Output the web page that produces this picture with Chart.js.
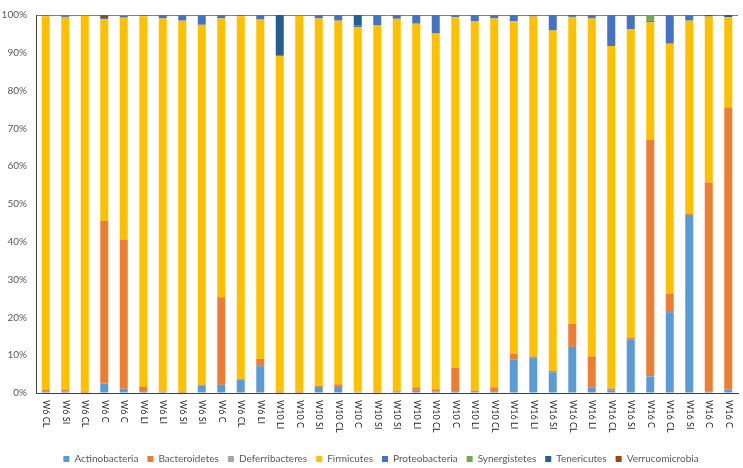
<!DOCTYPE html>
<html>
<head>
<meta charset="utf-8">
<script src="https://cdn.jsdelivr.net/npm/chart.js@4.4.1/dist/chart.umd.min.js"></script>
<style>
  html, body { margin: 0; padding: 0; background: #ffffff; }
  #wrap { width: 743px; height: 468px; position: relative; }
</style>
</head>
<body>
<div id="wrap"><canvas id="c"></canvas></div>
<script>
const categories = ["W6 CL","W6 SI","W6 CL","W6 C","W6 C","W6 LI","W6 LI","W6 SI","W6 SI","W6 C","W6 CL","W6 LI",
  "W10 LI","W10 C","W10 SI","W10 CL","W10 C","W10 SI","W10 SI","W10 LI","W10 CL","W10 C","W10 LI","W10 CL",
  "W16 LI","W16 LI","W16 SI","W16 CL","W16 LI","W16 CL","W16 SI","W16 C","W16 CL","W16 SI","W16 C","W16 C"];

const actinobacteria  = [0.3,0.4,0.1,2.5,1.1,0.3,0.3,0.1,1.9,2.2,3.6,7.1, 0.1,0.1,1.6,1.6,0.2,0.1,0.3,0.6,0.4,0.3,0.5,0.3, 8.8,9.2,5.5,12.2,1.5,0.7,14.2,4.4,21.4,47.1,0.3,0.9];
const bacteroidetes   = [0.5,0.5,0.3,43.0,39.5,1.3,0.1,0.3,0.3,23.1,0.1,1.9, 0.3,0.3,0.3,0.7,0.1,0.1,0.2,0.9,0.6,6.4,0.1,1.2, 1.6,0.4,0.3,6.1,8.2,0.5,0.4,62.5,4.9,0.3,55.4,74.6];
const deferribacteres = [0,0,0,0,0,0,0,0,0,0,0,0, 0,0,0,0,0,0,0,0,0,0,0,0, 0,0,0,0,0,0,0,0,0,0,0,0];
const firmicutes      = [98.9,98.6,99.4,53.4,58.7,98.1,98.7,98.1,95.2,73.8,96.0,89.8, 88.8,99.4,97.2,96.2,96.4,97.0,98.5,96.2,94.1,92.7,97.7,97.6, 87.9,90.0,90.1,81.2,89.4,90.6,81.6,31.2,66.1,51.1,43.9,23.9];
const proteobacteria  = [0.3,0.5,0.2,0.3,0.5,0.3,0.9,1.5,2.6,0.9,0.3,1.2, 0,0.2,0.9,1.5,0.6,2.8,1.0,2.3,4.9,0.6,1.7,0.9, 1.7,0.4,4.1,0.3,0.9,8.2,3.8,0.4,7.6,1.5,0,0];
const synergistetes   = [0,0,0,0,0.2,0,0,0,0,0,0,0, 0,0,0,0,0,0,0,0,0,0,0,0, 0,0,0,0,0,0,0,1.5,0,0,0,0];
const tenericutes     = [0,0,0,0,0,0,0,0,0,0,0,0, 10.8,0,0,0,2.7,0,0,0,0,0,0,0, 0,0,0,0.2,0,0,0,0,0,0,0.4,0.6];
const verrucomicrobia = [0,0,0,0.8,0,0,0,0,0,0,0,0, 0,0,0,0,0,0,0,0,0,0,0,0, 0,0,0,0,0,0,0,0,0,0,0,0];

const yTicks = [0,10,20,30,40,50,60,70,80,90,100];

const seriesNames  = ["Actinobacteria","Bacteroidetes","Deferribacteres","Firmicutes","Proteobacteria","Synergistetes","Tenericutes","Verrucomicrobia"];
const seriesData   = [actinobacteria, bacteroidetes, deferribacteres, firmicutes, proteobacteria, synergistetes, tenericutes, verrucomicrobia];
const seriesColors = ["#5B9BD5","#ED7D31","#A5A5A5","#FFC000","#4472C4","#70AD47","#255E91","#9E480E"];

const FONT = 'Lato, sans-serif';

const xLabelPlugin = {
  id: 'xLabels',
  afterLayout(chart) {
    if (chart.legend) {
      chart.legend.left += 12;
      chart.legend.right += 12;
    }
  },
  afterDraw(chart) {
    const xs = chart.scales.x;
    const ctx = chart.ctx;
    ctx.save();
    ctx.font = '9px ' + FONT;
    ctx.fillStyle = '#262626';
    ctx.textAlign = 'left';
    ctx.textBaseline = 'middle';
    categories.forEach((lab, i) => {
      const x = xs.getPixelForValue(i);
      ctx.save();
      ctx.translate(x + 0.5, chart.chartArea.bottom + 7);
      ctx.rotate(Math.PI / 2);
      ctx.fillText(lab, 0, 0);
      ctx.restore();
    });
    ctx.restore();
  }
};

new Chart(document.getElementById('c'), {
  type: 'bar',
  data: {
    labels: categories,
    datasets: seriesNames.map((n, k) => ({
      label: n,
      data: seriesData[k],
      backgroundColor: seriesColors[k],
      borderWidth: 0,
      barPercentage: 0.41,
      categoryPercentage: 1.0
    }))
  },
  options: {
    responsive: true,
    maintainAspectRatio: false,
    animation: false,
    layout: { padding: { top: 3, right: 5, left: 0, bottom: -6 } },
    plugins: {
      tooltip: { enabled: false },
      legend: {
        position: 'bottom',
        labels: {
          boxWidth: 6,
          boxHeight: 6,
          padding: 9,
          color: '#595959',
          font: { family: FONT, size: 10 }
        }
      }
    },
    scales: {
      x: {
        stacked: true,
        grid: { display: true, color: 'rgba(0,0,0,0)', drawTicks: false },
        border: { display: true, color: '#404040', width: 1 },
        ticks: { display: false },
        afterFit(scale) { scale.height = 52; }
      },
      y: {
        stacked: true,
        min: 0,
        max: 100,
        afterBuildTicks(scale) { scale.ticks = yTicks.map(v => ({ value: v })); },
        grid: {
          drawTicks: false,
          color: ctx => (ctx.tick && ctx.tick.value === 100) ? '#7f7f7f' : 'rgba(0,0,0,0)',
          lineWidth: 1
        },
        border: { display: true, color: '#404040', width: 1 },
        ticks: {
          padding: 9,
          color: '#595959',
          font: { family: FONT, size: 10 },
          callback: v => v + '%'
        },
        afterFit(scale) { scale.width = 36; }
      }
    }
  },
  plugins: [xLabelPlugin]
});
</script>
</body>
</html>
